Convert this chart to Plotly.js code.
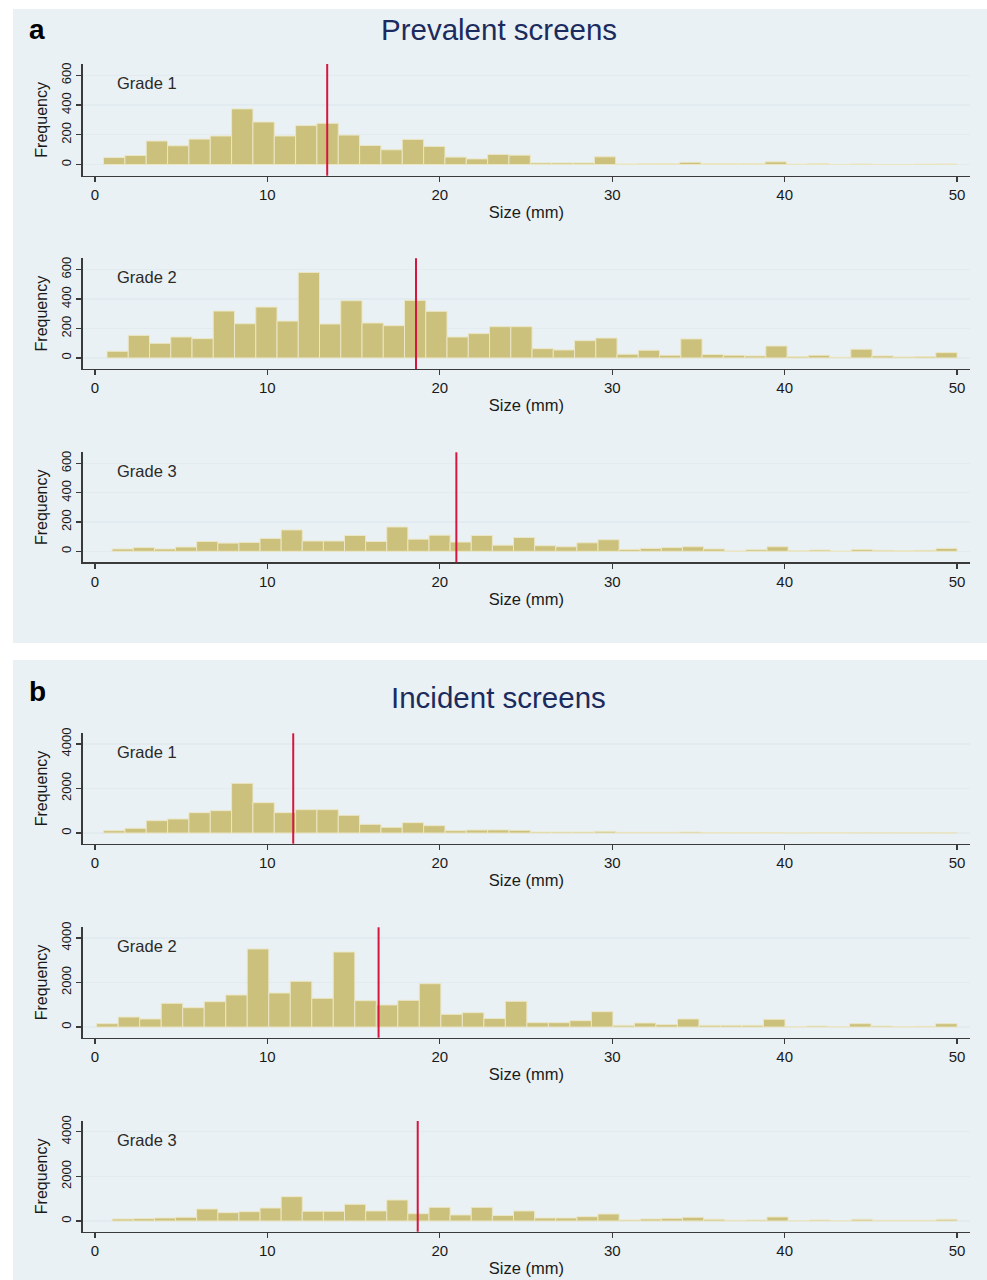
<!DOCTYPE html>
<html><head><meta charset="utf-8">
<script src="https://cdn.plot.ly/plotly-3.0.1.min.js"></script>
<style>html,body{margin:0;padding:0;background:#fff}#chart{width:987px;height:1280px}</style>
</head><body><div id="chart"></div>
<script>
// ---------------- data ----------------
const panelTitles = ["Prevalent screens", "Incident screens"];
const panelLetters = ["a", "b"];
const gradeLabels = ["Grade 1", "Grade 2", "Grade 3"];
const xTitle = "Size (mm)";
const yTitle = "Frequency";
const xTickVals = [0, 10, 20, 30, 40, 50];
const yTickValsPrev = [0, 200, 400, 600];
const yTickValsInc = [0, 2000, 4000];
const binCount = 40;
const binMax = 50;

// Prevalent screens (panel a): frequency per bin
const prevGrade1 = [47,61,158,126,171,192,374,286,192,262, 277,198,128,99,169,122,50,38,68,63, 11,11,11,52,4,5,7,15,7,7, 7,18,3,6,1,4,0,0,3,4];
const prevGrade2 = [45,153,99,142,131,318,232,345,250,580, 230,388,237,219,390,316,142,165,212,212, 63,54,117,135,25,52,18,129,23,18, 14,81,9,18,5,59,14,7,9,36];
const prevGrade3 = [16,25,16,29,67,56,61,88,146,70, 70,108,67,166,83,110,63,108,42,94, 38,31,58,79,13,20,25,31,16,2, 11,31,4,9,1,13,7,4,7,20];
const prevBinStart = [0.5, 0.7, 1.0];
const prevMedian = [13.47, 18.62, 20.96];

// Incident screens (panel b): frequency per bin
const incGrade1 = [105,210,554,630,914,1004,2232,1363,914,1049, 1049,794,390,255,465,330,105,135,140,120, 45,45,45,75,30,30,30,45,15,15, 15,15,0,15,15,8,8,8,8,8];
const incGrade2 = [150,449,360,1064,869,1139,1438,3505,1528,2052, 1288,3370,1183,989,1198,1947,569,644,380,1153, 195,195,285,689,75,180,105,360,75,75, 75,345,15,45,15,150,45,15,30,150];
const incGrade3 = [90,105,134,164,537,373,418,582,1090,433, 433,746,448,940,328,612,269,612,245,448, 134,134,194,313,45,90,119,164,75,30, 45,179,15,45,15,75,30,30,30,75];
const incBinStart = [0.5, 0.1, 1.0];
const incMedian = [11.5, 16.45, 18.72];

// ---------------- layout helpers ----------------
const W = 987, H = 1280;
const FONT = "Liberation Sans, Arial, Helvetica, sans-serif";
const barColor = "#cbc17c";
const barEdge = "#ebe6c4";
const medianColor = "#d6163f";
const panelBg = "#eaf1f4";
const gridColor = "#e2ebf0";
const axisColor = "#3a3a3a";

const plotLeft = 82.7, plotRight = 970;
const subplotBoxes = [
  [64, 175.7], [258.3, 369], [452.3, 562.3],
  [733.3, 843.7], [927.3, 1037.7], [1121, 1231.7]
];
const series = [
  {vals: prevGrade1, start: prevBinStart[0], med: prevMedian[0], label: gradeLabels[0], ticks: yTickValsPrev, range: [-75, 676]},
  {vals: prevGrade2, start: prevBinStart[1], med: prevMedian[1], label: gradeLabels[1], ticks: yTickValsPrev, range: [-75, 676]},
  {vals: prevGrade3, start: prevBinStart[2], med: prevMedian[2], label: gradeLabels[2], ticks: yTickValsPrev, range: [-75, 676]},
  {vals: incGrade1, start: incBinStart[0], med: incMedian[0], label: gradeLabels[0], ticks: yTickValsInc, range: [-480, 4480]},
  {vals: incGrade2, start: incBinStart[1], med: incMedian[1], label: gradeLabels[1], ticks: yTickValsInc, range: [-480, 4480]},
  {vals: incGrade3, start: incBinStart[2], med: incMedian[2], label: gradeLabels[2], ticks: yTickValsInc, range: [-480, 4480]}
];

const px = x => x / W;
const py = y => 1 - y / H;

const traces = [];
const layout = {
  width: W, height: H,
  margin: {l: 0, r: 0, t: 0, b: 0},
  paper_bgcolor: "#ffffff",
  plot_bgcolor: "#ffffff",
  font: {family: FONT, color: "#222"},
  showlegend: false,
  bargap: 0,
  hovermode: false,
  shapes: [
    {type: "rect", xref: "paper", yref: "paper", x0: px(13), x1: 1, y0: py(643), y1: py(9), fillcolor: panelBg, line: {width: 0}, layer: "below"},
    {type: "rect", xref: "paper", yref: "paper", x0: px(13), x1: 1, y0: 0, y1: py(660), fillcolor: panelBg, line: {width: 0}, layer: "below"}
  ],
  annotations: [
    {text: panelLetters[0], xref: "paper", yref: "paper", x: px(37), y: py(29), xanchor: "center", yanchor: "middle", showarrow: false, font: {size: 28, color: "#000", family: FONT, weight: "bold"}},
    {text: panelTitles[0], xref: "paper", yref: "paper", x: px(499), y: py(29), xanchor: "center", yanchor: "middle", showarrow: false, font: {size: 29.5, color: "#1c2b5e", family: FONT}},
    {text: panelLetters[1], xref: "paper", yref: "paper", x: px(37), y: py(691), xanchor: "center", yanchor: "middle", showarrow: false, font: {size: 28, color: "#000", family: FONT, weight: "bold"}},
    {text: panelTitles[1], xref: "paper", yref: "paper", x: px(499), y: py(697), xanchor: "center", yanchor: "middle", showarrow: false, font: {size: 29.5, color: "#1c2b5e", family: FONT}}
  ]
};

series.forEach((s, i) => {
  const n = i + 1;
  const xa = "x" + n, ya = "y" + n;
  const w = (binMax - s.start) / binCount;
  const centers = s.vals.map((_, k) => s.start + w * (k + 0.5));
  traces.push({
    type: "bar", x: centers, y: s.vals, width: w,
    xaxis: xa, yaxis: ya,
    marker: {color: barColor, line: {color: barEdge, width: 1}},
    hoverinfo: "skip"
  });
  const box = subplotBoxes[i];
  layout["xaxis" + n] = {
    domain: [px(plotLeft), px(plotRight)],
    anchor: ya,
    range: [-0.71, 50.75],
    tickmode: "array", tickvals: xTickVals,
    ticks: "outside", ticklen: 5, tickwidth: 1.2, tickcolor: axisColor,
    showline: true, linecolor: axisColor, linewidth: 1.4,
    showgrid: false, zeroline: false,
    tickfont: {size: 15, color: "#1a1a1a", family: FONT},
    title: {text: xTitle, font: {size: 16.5, color: "#1a1a1a", family: FONT}, standoff: 4}
  };
  layout["yaxis" + n] = {
    domain: [py(box[1]), py(box[0])],
    anchor: xa,
    range: s.range,
    tickmode: "array", tickvals: s.ticks,
    tickangle: -90,
    ticks: "outside", ticklen: 5, tickwidth: 1.2, tickcolor: axisColor,
    showline: true, linecolor: axisColor, linewidth: 1.4,
    showgrid: true, gridcolor: gridColor, gridwidth: 1.2,
    zeroline: false,
    tickfont: {size: 13, color: "#1a1a1a", family: FONT},
    title: {text: yTitle, font: {size: 16, color: "#1a1a1a", family: FONT}, standoff: 7}
  };
  layout.shapes.push({
    type: "line", xref: xa, yref: ya + " domain",
    x0: s.med, x1: s.med, y0: 0, y1: 1,
    line: {color: medianColor, width: 2}
  });
  layout.annotations.push({
    text: s.label, xref: xa + " domain", yref: ya + " domain",
    x: (115 - plotLeft) / (plotRight - plotLeft), y: 1 - 19 / (box[1] - box[0]),
    xanchor: "left", yanchor: "middle", showarrow: false,
    font: {size: 16.5, color: "#2a2a2a", family: FONT}
  });
});

Plotly.newPlot("chart", traces, layout, {staticPlot: true, displayModeBar: false});
</script>
</body></html>
